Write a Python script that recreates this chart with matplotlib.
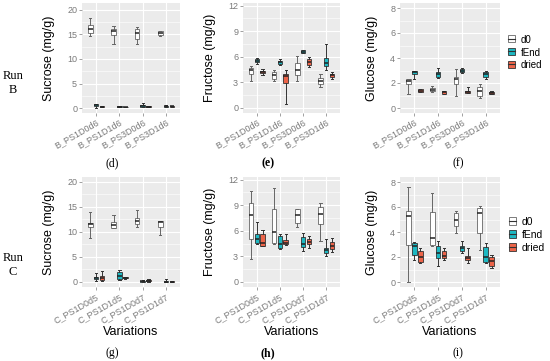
import matplotlib
matplotlib.use("Agg")
import matplotlib.pyplot as plt
from matplotlib.patches import Rectangle
from matplotlib.lines import Line2D
from matplotlib.legend_handler import HandlerBase

groups = ["d0", "fEnd", "dried"]
colors = {"d0": "white", "fEnd": "#1DB8C2", "dried": "#EC6449"}
edges = {"d0": "#666666", "fEnd": "#333333", "dried": "#333333"}

cats_b = ["B_PS1D0d6", "B_PS1D1d6", "B_PS3D0d6", "B_PS3D1d6"]
cats_c = ["C_PS1D0d5", "C_PS1D1d5", "C_PS1D0d7", "C_PS1D1d7"]

# box stats per category: (whislo, q1, med, q3, whishi)
sucrose_b = {
    "d0":    [(14.7, 15.3, 16.2, 17.0, 18.4), (13.1, 14.9, 15.6, 16.2, 16.7),
              (13.0, 14.0, 15.2, 16.2, 16.6), (14.7, 14.8, 15.2, 15.6, 15.8)],
    "fEnd":  [(0.0, 0.5, 0.6, 0.75, 0.9), (0.25, 0.28, 0.3, 0.33, 0.35),
              (0.2, 0.3, 0.45, 0.6, 1.0), (0.2, 0.3, 0.4, 0.5, 0.7)],
    "dried": [(0.2, 0.25, 0.3, 0.35, 0.4), (0.2, 0.23, 0.25, 0.28, 0.3),
              (0.2, 0.25, 0.3, 0.35, 0.4), (0.2, 0.3, 0.35, 0.4, 0.45)],
}
fructose_b = {
    "d0":    [(3.1, 4.0, 4.4, 4.7, 4.9), (3.1, 3.4, 3.8, 4.2, 4.4),
              (3.2, 3.8, 4.4, 5.3, 6.1), (2.4, 2.8, 3.1, 3.5, 4.0)],
    "fEnd":  [(5.2, 5.4, 5.55, 5.7, 5.9), (5.0, 5.2, 5.35, 5.5, 5.7),
              (6.4, 6.45, 6.6, 6.8, 6.8), (4.4, 4.9, 5.3, 5.9, 7.5)],
    "dried": [(3.9, 4.1, 4.2, 4.3, 4.6), (0.5, 2.9, 3.7, 4.0, 4.4),
              (4.8, 5.0, 5.4, 5.7, 6.0), (3.4, 3.6, 3.8, 4.0, 4.2)],
}
glucose_b = {
    "d0":    [(1.1, 1.95, 2.2, 2.3, 2.35), (1.3, 1.35, 1.45, 1.6, 1.75),
              (1.0, 1.9, 2.3, 2.5, 3.1), (0.8, 0.95, 1.35, 1.7, 1.9)],
    "fEnd":  [(2.3, 2.7, 2.85, 2.95, 3.0), (2.4, 2.5, 2.7, 2.9, 3.2),
              (2.8, 2.85, 3.0, 3.15, 3.2), (2.3, 2.5, 2.7, 2.9, 3.0)],
    "dried": [(1.3, 1.3, 1.4, 1.5, 1.5), (1.1, 1.1, 1.25, 1.35, 1.4),
              (1.2, 1.2, 1.25, 1.35, 1.65), (1.1, 1.15, 1.2, 1.3, 1.4)],
}
sucrose_c = {
    "d0":    [(8.7, 11.0, 11.5, 11.7, 13.9), (10.8, 10.8, 11.3, 11.9, 13.4),
              (10.9, 11.5, 12.1, 12.7, 14.4), (9.3, 11.0, 12.0, 12.2, 12.2)],
    "fEnd":  [(0.1, 0.5, 0.75, 1.0, 1.8), (0.3, 0.5, 1.2, 1.9, 2.3),
              (0.0, 0.05, 0.1, 0.15, 0.4), (0.0, 0.0, 0.05, 0.1, 0.6)],
    "dried": [(0.1, 0.4, 0.7, 1.1, 2.2), (0.6, 0.7, 0.8, 0.9, 1.0),
              (0.0, 0.1, 0.2, 0.3, 0.6), (0.0, 0.0, 0.05, 0.1, 0.2)],
}
fructose_c = {
    "d0":    [(2.7, 5.05, 7.9, 9.3, 10.7), (4.4, 4.6, 5.9, 8.6, 11.0),
              (6.4, 6.9, 7.8, 8.5, 8.6), (4.8, 6.8, 8.0, 8.8, 9.3)],
    "fEnd":  [(4.4, 4.6, 5.0, 5.6, 7.0), (3.8, 4.0, 4.4, 5.4, 5.6),
              (3.6, 4.1, 4.4, 5.3, 5.7), (3.0, 3.4, 3.7, 4.0, 5.0)],
    "dried": [(4.2, 4.2, 4.6, 5.6, 6.1), (4.3, 4.4, 4.6, 4.9, 5.6),
              (4.0, 4.4, 4.7, 5.0, 5.4), (3.5, 3.8, 4.2, 4.7, 5.2)],
}
glucose_c = {
    "d0":    [(0.0, 3.0, 5.3, 5.7, 7.6), (2.9, 2.95, 3.5, 5.6, 7.1),
              (3.9, 4.5, 4.95, 5.5, 5.7), (2.6, 3.9, 5.5, 5.9, 6.1)],
    "fEnd":  [(1.8, 2.2, 2.9, 3.1, 3.2), (1.3, 1.9, 2.3, 2.9, 3.3),
              (2.3, 2.5, 2.7, 2.9, 3.3), (1.5, 1.6, 2.0, 2.8, 3.1)],
    "dried": [(1.5, 1.6, 2.0, 2.5, 2.7), (1.8, 1.9, 2.1, 2.5, 2.7),
              (1.5, 1.75, 1.9, 2.1, 2.7), (1.1, 1.3, 1.7, 2.0, 2.2)],
}

panels = [
    (sucrose_b, cats_b, "Sucrose (mg/g)", [0, 5, 10, 15, 20], (-1.0, 21.4), "(d)"),
    (fructose_b, cats_b, "Fructose (mg/g)", [0, 3, 6, 9, 12], (-0.6, 12.3), "(e)"),
    (glucose_b, cats_b, "Glucose (mg/g)", [0, 2, 4, 6, 8], (-0.4, 8.4), "(f)"),
    (sucrose_c, cats_c, "Sucrose (mg/g)", [0, 5, 10, 15, 20], (-1.0, 20.9), "(g)"),
    (fructose_c, cats_c, "Fructose (mg/g)", [0, 3, 6, 9, 12], (-0.6, 12.3), "(h)"),
    (glucose_c, cats_c, "Glucose (mg/g)", [0, 2, 4, 6, 8], (-0.4, 8.4), "(i)"),
]

W, H = 550, 361
fig = plt.figure(figsize=(5.5, 3.61), dpi=100)
plt.rcParams["font.family"] = "Liberation Sans"

lefts = [82, 243, 400]
widths = [98, 97, 100]
row_top = [3, 177]
row_bot = [113, 287]


class BoxHandler(HandlerBase):
    def create_artists(self, legend, orig, x0, y0, width, height, fontsize, trans):
        fc = orig.get_facecolor()
        ec = orig.get_edgecolor()
        r = Rectangle((x0 + width * 0.15, y0), width * 0.7, height, facecolor=fc,
                      edgecolor=ec, lw=0.6, transform=trans)
        l = Line2D([x0 + width * 0.15, x0 + width * 0.85], [y0 + height / 2] * 2,
                   color="#333333", lw=0.8, transform=trans)
        return [r, l]


for k, (data, cats, ylabel, yticks, ylim, letter) in enumerate(panels):
    row, col = divmod(k, 3)
    ax = fig.add_axes([lefts[col] / W, 1 - row_bot[row] / H,
                       widths[col] / W, (row_bot[row] - row_top[row]) / H])
    ax.set_facecolor("#EBEBEB")
    for s in ax.spines.values():
        s.set_visible(False)
    for j, g in enumerate(groups):
        stats = []
        for v in data[g]:
            stats.append(dict(whislo=v[0], q1=v[1], med=v[2], q3=v[3], whishi=v[4], fliers=[]))
        pos = [i + 1 + (j - 1) * 0.25 for i in range(len(cats))]
        ax.bxp(stats, positions=pos, widths=0.2, patch_artist=True, showfliers=False,
               boxprops=dict(facecolor=colors[g], edgecolor=edges[g], lw=0.6),
               medianprops=dict(color="#222222", lw=1.1),
               whiskerprops=dict(color=edges[g], lw=0.7),
               capprops=dict(color=edges[g], lw=0.7), capwidths=0.1,
               manage_ticks=False, zorder=3)
    ax.set_xlim(0.4, len(cats) + 0.6)
    ax.set_ylim(*ylim)
    ax.set_yticks(yticks)
    step = yticks[1] - yticks[0]
    ax.set_yticks([t + step / 2 for t in yticks[:-1]], minor=True)
    ax.set_xticks(range(1, len(cats) + 1))
    ax.set_xticklabels(cats, rotation=30, ha="right", rotation_mode="anchor")
    ax.grid(True, which="major", color="white", lw=0.8, zorder=0)
    ax.grid(True, which="minor", axis="y", color="white", lw=0.4, zorder=0)
    ax.set_axisbelow(True)
    ax.tick_params(axis="both", which="major", labelsize=6.5, colors="#7A7A7A",
                   length=2, width=0.5, pad=1.5)
    ax.tick_params(axis="y", which="minor", length=0)
    ax.set_ylabel(ylabel, fontsize=9, color="black", labelpad=9)
    if row == 1:
        ax.set_xlabel("Variations", fontsize=9, labelpad=1)
    cx = [112, 268, 458][col]
    cy = [163, 353][row]
    fig.text(cx / W, 1 - cy / H, letter, ha="center", va="center", fontsize=8.5,
             family="Liberation Serif",
             fontweight="bold" if letter in ("(e)", "(h)") else "normal")
    if col == 2:
        handles = [Rectangle((0, 0), 1, 1, facecolor=colors[g], edgecolor=edges[g])
                   for g in groups]
        fs = 7 if row == 0 else 7.5
        leg = ax.legend(handles, groups, loc="center left",
                        bbox_to_anchor=(1.0, 0.55 if row == 0 else 0.47),
                        frameon=False, fontsize=fs, handlelength=1.0, handleheight=0.8,
                        handletextpad=0.4, labelspacing=0.3, borderaxespad=0.3,
                        handler_map={Rectangle: BoxHandler()})

fig.text(13 / W, 1 - 83 / H, "Run\nB", ha="center", va="center", fontsize=9,
         family="Liberation Serif", linespacing=1.3)
fig.text(13 / W, 1 - 265 / H, "Run\nC", ha="center", va="center", fontsize=9,
         family="Liberation Serif", linespacing=1.3)

fig.savefig("out.png", dpi=100)
